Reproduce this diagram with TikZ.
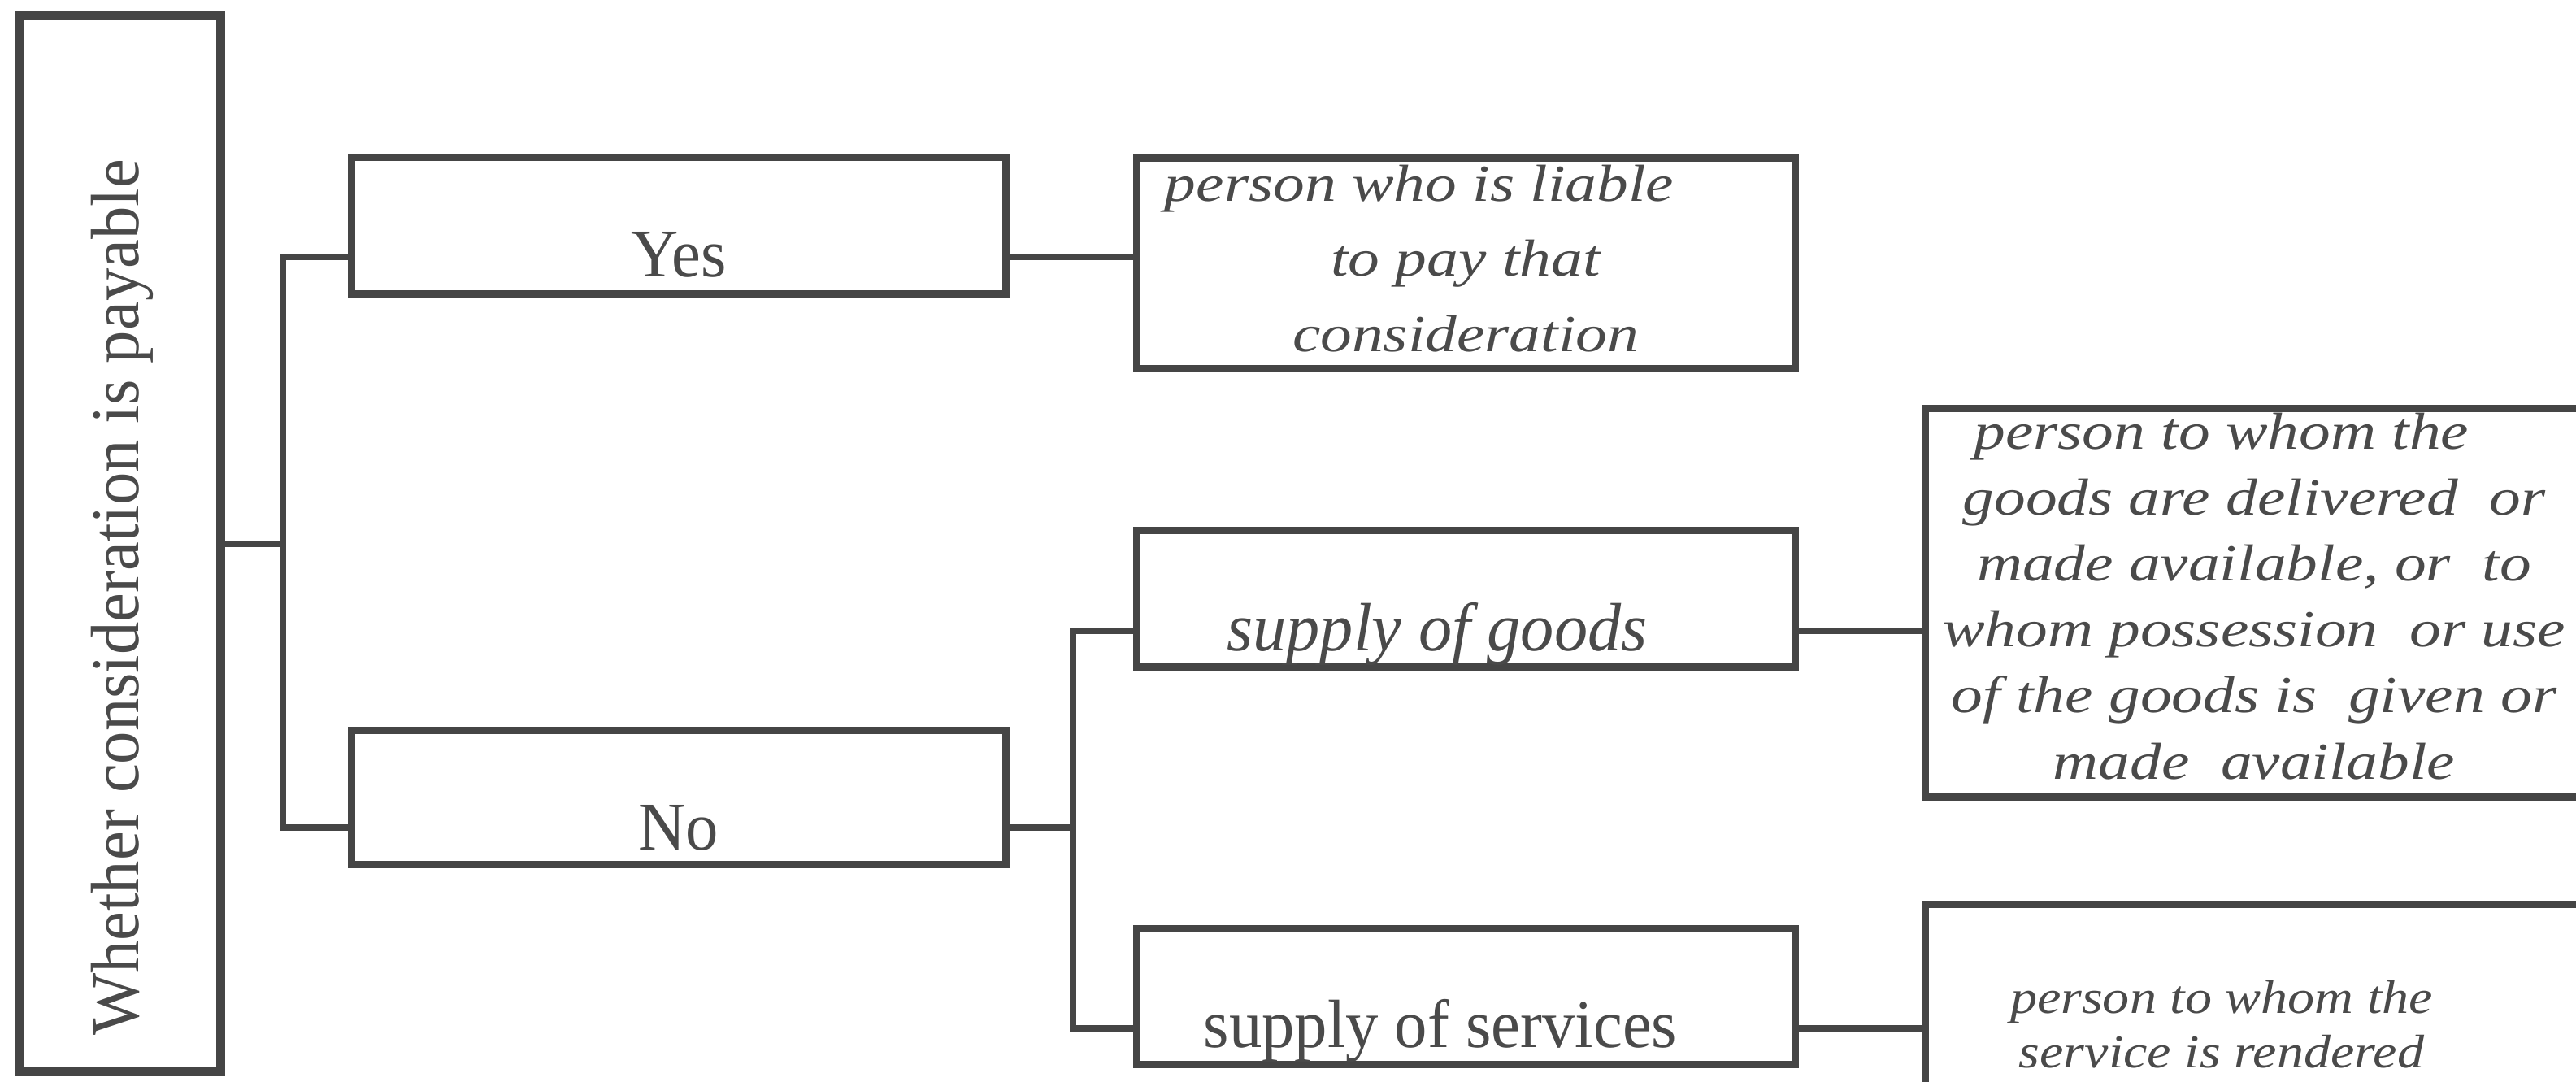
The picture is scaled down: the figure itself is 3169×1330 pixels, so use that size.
\documentclass[tikz,border=0pt]{standalone}
\usepackage{fontspec}
\setmainfont{Liberation Serif}
\newfontfamily\rmA[FakeStretch=0.96]{Liberation Serif}
\newfontfamily\itA[FakeStretch=0.98]{Liberation Serif}
\newfontfamily\itB[FakeStretch=1.21]{Liberation Serif}
\newfontfamily\itC[FakeStretch=1.14]{Liberation Serif}
\definecolor{ink}{HTML}{454545}
\definecolor{txt}{HTML}{4A4A4A}
\tikzset{
  box/.style={draw=ink, line width=0.09cm, fill=none, inner sep=0pt, outer sep=0pt},
  rootbox/.style={box, line width=0.11cm},
  wire/.style={draw=ink, line width=0.08cm, line cap=rect},
  uptext/.style={text=txt, inner sep=0pt, font=\rmA\fontsize{23.9pt}{28pt}\selectfont},
  itbig/.style={text=txt, inner sep=0pt, font=\itA\itshape\fontsize{23.9pt}{28pt}\selectfont},
  itmid/.style={text=txt, inner sep=0pt, align=center},
  itsmall/.style={text=txt, inner sep=0pt, align=center, font=\itC\itshape\fontsize{16.5pt}{18.8pt}\selectfont},
}
\begin{document}
\begin{tikzpicture}[x=0.01cm, y=-0.01cm]
\useasboundingbox (0,0) rectangle (3169,1330);
\fill[white] (0,0) rectangle (3169,1330);
\begin{scope}
\clip (0,0) rectangle (3169,1330);

% boxes
\node[rootbox, minimum width=2.47cm, minimum height=12.98cm] (root) at (147.5,669) {};
\node[box, minimum width=8.04cm, minimum height=1.67cm] (yes) at (835,277.5) {};
\node[box, minimum width=8.04cm, minimum height=1.64cm] (no) at (835,981) {};
\node[box, minimum width=8.09cm, minimum height=2.58cm] (liable) at (1803.5,324) {};
\node[box, minimum width=8.09cm, minimum height=1.67cm] (goods) at (1803.5,736.5) {};
\node[box, minimum width=8.09cm, minimum height=1.66cm] (services) at (1803.5,1226) {};
\node[box, minimum width=8.08cm, minimum height=4.77cm] (grec) at (2773,741.5) {};
\node[box, minimum width=8.08cm, minimum height=4.77cm] (srec) at (2773,1351.5) {};

% junction points
\coordinate (j1) at (348,669);
\coordinate (ya) at (348,316);
\coordinate (na) at (348,1018);
\coordinate (ga) at (1320,776);
\coordinate (sa) at (1320,1265);

% connectors
\draw[wire] (root.east |- j1) -- (j1);
\draw[wire] (yes.west |- ya) -- (ya) -- (na) -- (no.west |- na);
\draw[wire] (yes.east |- ya) -- (liable.west |- ya);
\draw[wire] (no.east |- na) -- (na -| ga);
\draw[wire] (goods.west |- ga) -- (ga) -- (sa) -- (services.west |- sa);
\draw[wire] (goods.east |- ga) -- (grec.west |- ga);
\draw[wire] (services.east |- sa) -- (srec.west |- sa);

% labels (multi-line labels are placed by the baseline of their last line)
\node[uptext, rotate=90, anchor=base] (qtext) at (170,735) {Whether consideration is payable};
\node[uptext, anchor=base] (yestext) at (835,340) {Yes};
\node[uptext, anchor=base] (notext) at (835,1045) {No};
\node[itbig, anchor=base] (goodstext) at (1768,800) {supply of goods};
\node[uptext, anchor=base] (servtext) at (1772,1288) {supply of services};
\node[itmid, anchor=base, font=\itB\itshape\fontsize{18.2pt}{26.2pt}\selectfont] (liabletext) at (1803,432)
  {person who is liable\hspace*{1.14cm}\\ to pay that\\ consideration};
\node[itmid, anchor=base, font=\itB\itshape\fontsize{18.2pt}{23.05pt}\selectfont] (grectext) at (2773,958)
  {person to whom the\hspace*{0.8cm}\\ goods are delivered\ \ or\\ made available, or\ \ to\\
   whom possession\ \ or use\\ of the goods is\ \ given or\\ made\ \ available};
\node[itsmall, anchor=base] (srectext) at (2733,1313) {person to whom the\\ service is rendered};
\end{scope}
\end{tikzpicture}
\end{document}
